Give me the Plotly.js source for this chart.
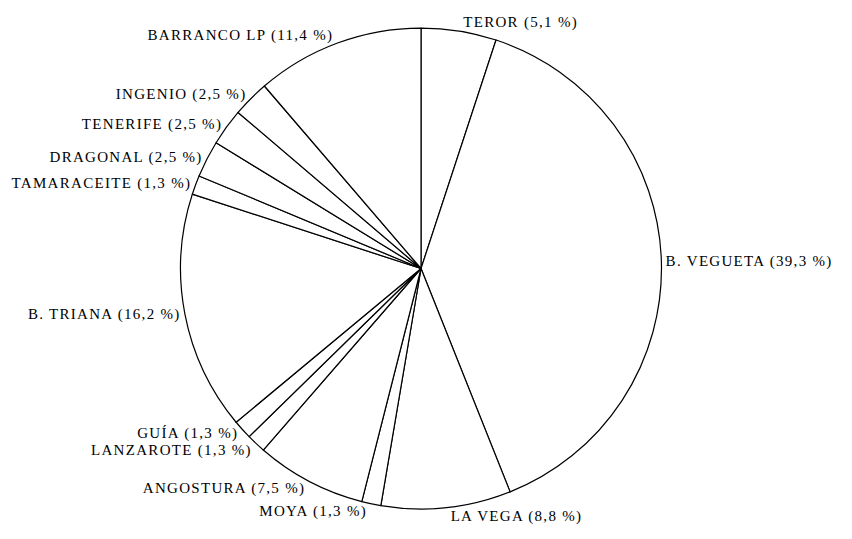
<!DOCTYPE html>
<html>
<head>
<meta charset="utf-8">
<script src="https://cdn.plot.ly/plotly-3.0.1.min.js"></script>
<style>
html,body{margin:0;padding:0;background:#fff;}
#chart{width:852px;height:539px;}
svg text{letter-spacing:1.3px;}
path.textline{display:none;}
</style>
</head>
<body>
<div id="chart"></div>
<script>
const categories = ["TEROR", "B. VEGUETA", "LA VEGA", "MOYA", "ANGOSTURA", "LANZAROTE", "GUÍA", "B. TRIANA", "TAMARACEITE", "DRAGONAL", "TENERIFE", "INGENIO", "BARRANCO LP"];
const percents = [5.1, 39.3, 8.8, 1.3, 7.5, 1.3, 1.3, 16.2, 1.3, 2.5, 2.5, 2.5, 11.4];

const labelTexts = categories.map((c, i) => c + " (" + percents[i].toFixed(1).replace(".", ",") + " %)");

const trace = {
  type: "pie",
  labels: categories,
  values: percents,
  text: labelTexts,
  textinfo: "text",
  textposition: "outside",
  sort: false,
  direction: "clockwise",
  rotation: 0,
  hoverinfo: "none",
  marker: {colors: categories.map(() => "#ffffff"), line: {color: "#000000", width: 1.2}},
  outsidetextfont: {family: "Liberation Serif, Times New Roman, serif", size: 15, color: "#000000"},
  domain: {x: [0.2119, 0.7764], y: [0.0557, 0.948]},
  automargin: false,
  showlegend: false
};

Plotly.newPlot("chart", [trace], {
  width: 852, height: 539,
  margin: {l: 0, r: 0, t: 0, b: 0},
  paper_bgcolor: "#ffffff",
  showlegend: false
}, {displayModeBar: false, staticPlot: true});
</script>
</body>
</html>
